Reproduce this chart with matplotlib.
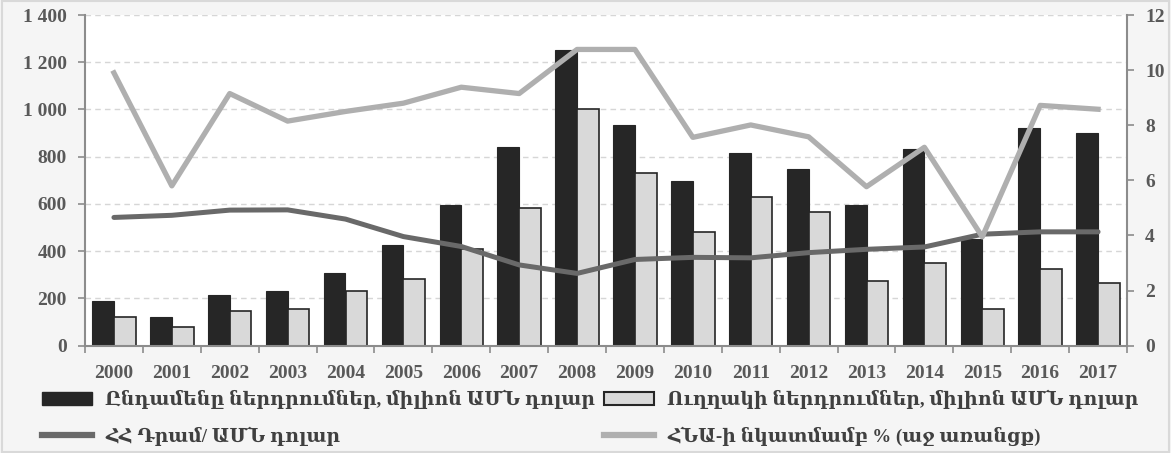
import matplotlib
matplotlib.use("Agg")
import matplotlib.pyplot as plt
import numpy as np
from matplotlib.patches import Patch
from matplotlib.lines import Line2D
from matplotlib import font_manager as fm

years = [str(y) for y in range(2000, 2018)]
total_inv = [190, 123, 214, 233, 309, 428, 597, 840, 1250, 935, 698, 816, 749, 596, 833, 453, 920, 901]
direct_inv = [120, 78, 147, 155, 231, 281, 408, 585, 1000, 731, 482, 628, 567, 274, 350, 155, 323, 264]
amd_usd = [543, 552, 574, 575, 536, 462, 420, 342, 306, 365, 374, 372, 394, 408, 418, 472, 482, 482]
gdp_growth = [9.9, 5.8, 9.15, 8.15, 8.5, 8.8, 9.38, 9.15, 10.75, 10.75, 7.56, 8.01, 7.58, 5.77, 7.2, 3.95, 8.72, 8.58]

left_ticks = [0, 200, 400, 600, 800, 1000, 1200, 1400]
left_tick_labels = ["0", "200", "400", "600", "800", "1 000", "1 200", "1 400"]
right_ticks = [0, 2, 4, 6, 8, 10, 12]

labels = ["Ընդամենը ներդրումներ, միլիոն ԱՄՆ դոլար",
          "Ուղղակի ներդրումներ, միլիոն ԱՄՆ դոլար",
          "ՀՀ Դրամ/ ԱՄՆ դոլար",
          "ՀՆԱ-ի նկատմամբ % (աջ առանցք)"]

FONT = ['Liberation Serif', 'DejaVu Serif']
plt.rcParams['font.family'] = FONT
plt.rcParams['font.weight'] = 'bold'

# prefer a condensed serif for the Armenian legend text if installed
LEG_FONT = list(FONT)
try:
    fm.findfont(fm.FontProperties(family='DejaVu Serif Condensed', weight='bold'), fallback_to_default=False)
    LEG_FONT = ['Liberation Serif', 'DejaVu Serif Condensed', 'DejaVu Serif']
except Exception:
    pass

c_dark = '#262626'
c_light = '#d9d9d9'
c_amd = '#696969'
c_gdp = '#afafaf'
c_txt = '#595959'
c_axis = '#8c8c8c'

fig = plt.figure(figsize=(11.71, 4.53), dpi=100, facecolor='#f5f5f5')
fig.patches.append(plt.Rectangle((0.0015, 0.003), 0.997, 0.994, transform=fig.transFigure,
                                 fill=False, edgecolor='#d9d9d9', linewidth=1.5))
ax = fig.add_axes([85/1171, 1 - 345.7/453, (1127 - 85)/1171, (345.7 - 15)/453])
ax.set_facecolor('white')

x = np.arange(len(years))
w = 0.375
ax.bar(x - w/2, total_inv, width=w, color=c_dark, edgecolor=c_dark, linewidth=0.8, zorder=2)
ax.bar(x + w/2, direct_inv, width=w, color=c_light, edgecolor=c_dark, linewidth=1.2, zorder=2)
ax.plot(x, amd_usd, color=c_amd, linewidth=3.6, solid_capstyle='round', zorder=3)

ax.set_xlim(-0.5, len(years) - 0.5)
ax.set_ylim(0, 1400)
ax.set_yticks(left_ticks)
ax.set_yticklabels(left_tick_labels)
ax.yaxis.grid(True, color='#d6d6d6', linestyle=(0, (4, 3)), linewidth=1.0)
ax.set_axisbelow(True)

ax.set_xticks(x)
ax.set_xticklabels(years)
ax.set_xticks(np.arange(-0.5, len(years)), minor=True)
ax.tick_params(axis='x', which='major', length=0, pad=14, labelsize=14, labelcolor=c_txt)
ax.tick_params(axis='x', which='minor', length=5, color=c_axis, width=1.2)
ax.tick_params(axis='y', length=5, color=c_axis, width=1.2, labelsize=14, labelcolor=c_txt, pad=8)

for s in ['top', 'right']:
    ax.spines[s].set_visible(False)
for s in ['left', 'bottom']:
    ax.spines[s].set_color(c_axis)
    ax.spines[s].set_linewidth(1.5)

ax2 = ax.twinx()
ax2.plot(x, gdp_growth, color=c_gdp, linewidth=3.8, zorder=4)
ax2.set_ylim(0, 12)
ax2.set_yticks(right_ticks)
ax2.tick_params(axis='y', length=5, color=c_axis, width=1.2, labelsize=14, labelcolor=c_txt, pad=8)
for s in ['top', 'left', 'bottom']:
    ax2.spines[s].set_visible(False)
ax2.spines['right'].set_color(c_axis)
ax2.spines['right'].set_linewidth(1.5)

# choose legend font size so the longest label spans about as wide as in the reference
renderer = fig.canvas.get_renderer()
probe = fig.text(0, 0, labels[0], fontsize=15, family=LEG_FONT, weight='bold')
wpx = probe.get_window_extent(renderer).width
probe.remove()
fs = min(16.0, 15.0 * 490.0 / wpx)

h1 = Patch(facecolor=c_dark, edgecolor=c_dark)
h2 = Patch(facecolor=c_light, edgecolor=c_dark, linewidth=1.5)
h3 = Line2D([], [], color=c_amd, linewidth=4.5)
h4 = Line2D([], [], color=c_gdp, linewidth=4.5)

px = fs * 100 / 72.0
common = dict(frameon=False, handlelength=50 / px, handleheight=12 / px,
              handletextpad=13 / px, labelspacing=(36 - px) / px, borderaxespad=0, borderpad=0,
              labelcolor='#404040', loc='upper left',
              prop=fm.FontProperties(family=LEG_FONT, weight='bold', size=fs))
top = 1 - (401 - px * 0.6) / 453
leg1 = fig.legend([h1, h3], [labels[0], labels[2]], bbox_to_anchor=(42/1171, top), **common)
leg2 = fig.legend([h2, h4], [labels[1], labels[3]], bbox_to_anchor=(604/1171, top), **common)

fig.savefig('out.png', dpi=100, facecolor=fig.get_facecolor())
